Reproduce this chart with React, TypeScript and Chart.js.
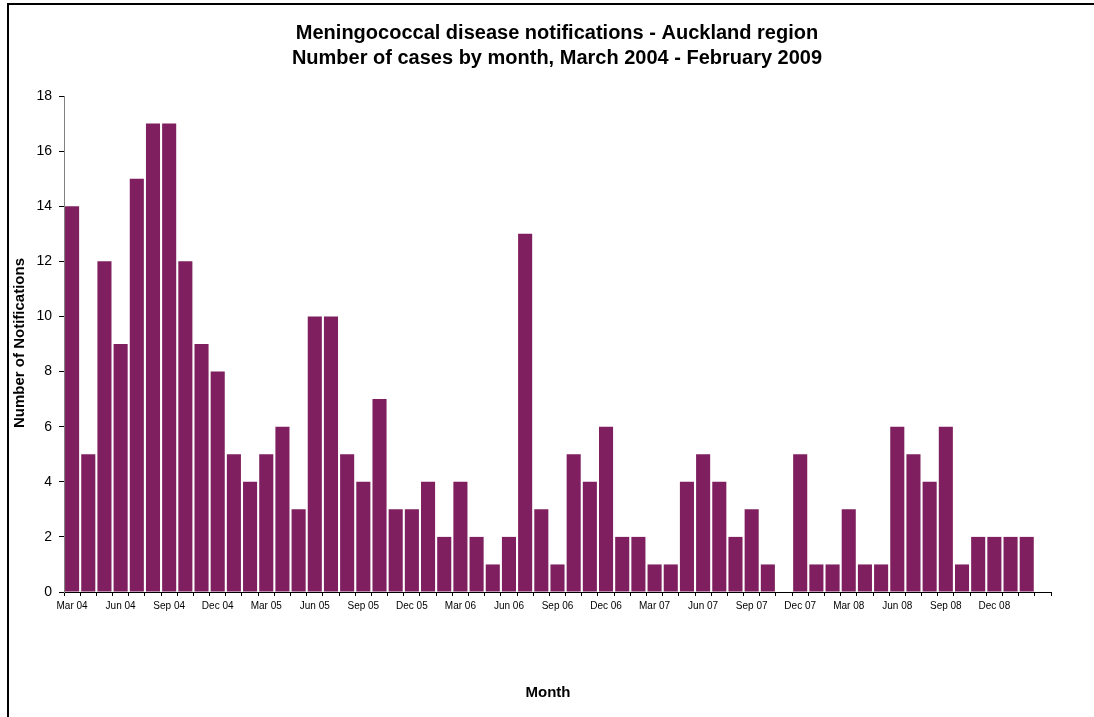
import React, { useEffect, useRef } from "react";
import { Chart, registerables } from "chart.js";

Chart.register(...registerables);

const months: string[] = [
  "Mar 04", "Apr 04", "May 04", "Jun 04", "Jul 04", "Aug 04", "Sep 04", "Oct 04", "Nov 04", "Dec 04",
  "Jan 05", "Feb 05", "Mar 05", "Apr 05", "May 05", "Jun 05", "Jul 05", "Aug 05", "Sep 05", "Oct 05", "Nov 05", "Dec 05",
  "Jan 06", "Feb 06", "Mar 06", "Apr 06", "May 06", "Jun 06", "Jul 06", "Aug 06", "Sep 06", "Oct 06", "Nov 06", "Dec 06",
  "Jan 07", "Feb 07", "Mar 07", "Apr 07", "May 07", "Jun 07", "Jul 07", "Aug 07", "Sep 07", "Oct 07", "Nov 07", "Dec 07",
  "Jan 08", "Feb 08", "Mar 08", "Apr 08", "May 08", "Jun 08", "Jul 08", "Aug 08", "Sep 08", "Oct 08", "Nov 08", "Dec 08",
  "Jan 09", "Feb 09",
];

const notifications: number[] = [
  14, 5, 12, 9, 15, 17, 17, 12, 9, 8,
  5, 4, 5, 6, 3, 10, 10, 5, 4, 7, 3, 3,
  4, 2, 4, 2, 1, 2, 13, 3, 1, 5, 4, 6,
  2, 2, 1, 1, 4, 5, 4, 2, 3, 1, 0, 5,
  1, 1, 3, 1, 1, 6, 5, 4, 6, 1, 2, 2,
  2, 2,
];

const titleLines: string[] = [
  "Meningococcal disease notifications - Auckland region",
  "Number of cases by month, March 2004 - February 2009",
];
const yAxisTitle = "Number of Notifications";
const xAxisTitle = "Month";

const FONT = "'Liberation Sans', Arial, Helvetica, sans-serif";
const BAR_COLOR = "#7F1F5F";

export default function App() {
  const ref = useRef<HTMLCanvasElement | null>(null);

  useEffect(() => {
    if (!ref.current) return;
    const labels = [...months, ""];
    const values: (number | null)[] = [...notifications, null];

    const decor = {
      id: "decor",
      afterDraw(chart: any) {
        const ctx = chart.ctx;
        ctx.save();
        ctx.strokeStyle = "#000";
        ctx.lineWidth = 2;
        ctx.strokeRect(8, 4, 3000, 3000);
        ctx.fillStyle = "#000";
        ctx.textAlign = "center";
        ctx.textBaseline = "middle";
        ctx.font = `bold 20px ${FONT}`;
        ctx.fillText(titleLines[0], 557, 33);
        ctx.fillText(titleLines[1], 557, 58);
        ctx.font = `bold 15px ${FONT}`;
        ctx.fillText(xAxisTitle, 548, 693);
        ctx.translate(20, 343);
        ctx.rotate(-Math.PI / 2);
        ctx.fillText(yAxisTitle, 0, 0);
        ctx.restore();
      },
    };

    const chart = new Chart(ref.current, {
      type: "bar",
      data: {
        labels,
        datasets: [
          {
            data: values,
            backgroundColor: BAR_COLOR,
            borderWidth: 0,
            categoryPercentage: 1,
            barPercentage: 0.87,
          },
        ],
      },
      options: {
        responsive: false,
        animation: false,
        layout: { padding: { top: 96, right: 43, left: 0, bottom: 0 } },
        plugins: {
          legend: { display: false },
          title: { display: false },
          tooltip: { enabled: false },
        },
        scales: {
          x: {
            offset: true,
            afterFit(scale: any) {
              scale.height = 125;
            },
            grid: {
              offset: true,
              drawOnChartArea: false,
              drawTicks: true,
              tickLength: 4,
              color: "#000",
            },
            border: { display: true, color: "#000", width: 1 },
            ticks: {
              autoSkip: false,
              maxRotation: 0,
              minRotation: 0,
              padding: 4,
              color: "#000",
              font: { family: FONT, size: 10 },
              callback: (_v: any, i: number) => (i % 3 === 0 ? labels[i] : ""),
            },
          },
          y: {
            min: 0,
            max: 18,
            afterFit(scale: any) {
              scale.width = 64;
            },
            grid: {
              drawOnChartArea: false,
              drawTicks: true,
              tickLength: 5,
              color: "#000",
            },
            border: { display: true, color: "#808080", width: 1 },
            ticks: {
              stepSize: 2,
              padding: 7,
              color: "#000",
              font: { family: FONT, size: 14 },
            },
          },
        },
      },
      plugins: [decor],
    });
    return () => chart.destroy();
  }, []);

  return (
    <div style={{ position: "fixed", left: 0, top: 0, width: 1094, height: 717, background: "#fff" }}>
      <canvas ref={ref} width={1094} height={717} style={{ width: 1094, height: 717, display: "block" }} />
    </div>
  );
}
